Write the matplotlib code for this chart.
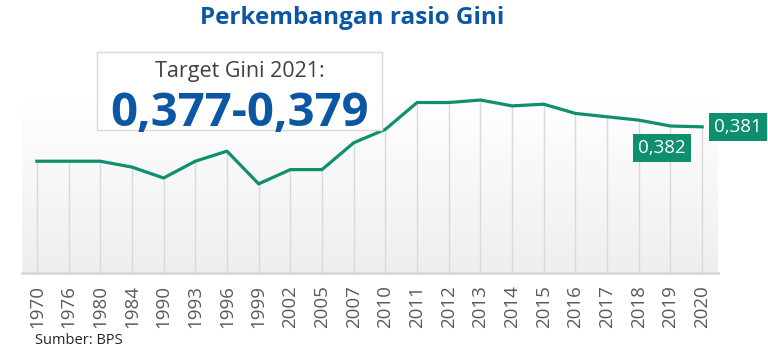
import matplotlib
matplotlib.use("Agg")
import matplotlib.pyplot as plt
import numpy as np
from matplotlib.patches import Rectangle

years = ["1970", "1976", "1980", "1984", "1990", "1993", "1996", "1999", "2002", "2005",
         "2007", "2010", "2011", "2012", "2013", "2014", "2015", "2016", "2017", "2018",
         "2019", "2020"]
gini = [0.34, 0.34, 0.34, 0.333, 0.32, 0.34, 0.352, 0.313, 0.33, 0.33,
        0.362, 0.378, 0.41, 0.41, 0.413, 0.406, 0.408, 0.397, 0.393, 0.389,
        0.382, 0.381]
title = "Perkembangan rasio Gini"
target_label = "Target Gini 2021:"
target_value = "0,377-0,379"
source = "Sumber: BPS"
labelled = {20: "0,382", 21: "0,381"}

GREEN = "#0E8F6E"
BLUE = "#0B57A4"

plt.rcParams['font.family'] = ['Open Sans', 'DejaVu Sans']

W, H = 768, 356
fig = plt.figure(figsize=(W / 100, H / 100), dpi=100)
fig.patch.set_facecolor("white")

L, R, T, B = 22, 718, 98, 273
ax = fig.add_axes([L / W, (H - B) / H, (R - L) / W, (B - T) / H])
n = len(years)
x = np.arange(n)
ymin, ymax = 0.2067, 0.4154
xmin, xmax = -0.47, n - 1 + 0.5
ax.set_xlim(xmin, xmax)
ax.set_ylim(ymin, ymax)

# gradient background
grad = np.linspace(1.0, 0.935, 256).reshape(-1, 1)
ax.imshow(np.dstack([grad, grad, grad]), extent=[xmin, xmax, ymin, ymax],
          aspect="auto", origin="upper", zorder=0)

ax.vlines(x, ymin, gini, colors="#d9d9d9", linewidth=1.0, zorder=1)
ax.plot(x, gini, color=GREEN, linewidth=2.3, zorder=3, solid_joinstyle="round")

for s in ["left", "right", "top"]:
    ax.spines[s].set_visible(False)
ax.spines["bottom"].set_color("#d9d9d9")
ax.spines["bottom"].set_linewidth(2)
ax.set_yticks([])
ax.set_xticks(x)
ax.set_xticklabels(years, rotation=90, fontsize=13.5, color="#595959")
ax.tick_params(axis="x", length=0, pad=9)

# data labels
box = dict(boxstyle="square,pad=0.28", fc=GREEN, ec="none")
ax.annotate(labelled[20], (20, gini[20]), xytext=(-6, -16), textcoords="offset points",
            ha="center", va="center", fontsize=13.5, color="white",
            bbox=box, zorder=5, annotation_clip=False)
ax.annotate(labelled[21], (21, gini[21]), xytext=(26, 0), textcoords="offset points",
            ha="center", va="center", fontsize=13.5, color="white",
            bbox=box, zorder=5, annotation_clip=False)

# title
fig.text(352 / W, 1 - 18 / H, title, ha="center", va="center", fontsize=17.5,
         fontweight="bold", color=BLUE)

# target box
bx0, by0, bx1, by1 = 97, 52, 382, 130
fig.patches.append(Rectangle((bx0 / W, 1 - by1 / H), (bx1 - bx0) / W, (by1 - by0) / H,
                             transform=fig.transFigure, fc="white", ec="#d9d9d9",
                             lw=1, zorder=10))
fig.text(240 / W, 1 - 72 / H, target_label, ha="center", va="center", fontsize=15.5,
         color="#404040", zorder=11)
fig.text(240 / W, 1 - 114 / H, target_value, ha="center", va="center", fontsize=34,
         fontweight="bold", color=BLUE, zorder=11)

fig.text(35 / W, 1 - 341 / H, source, ha="left", va="center", fontsize=10.5,
         color="#262626")

fig.savefig("out.png", dpi=100)
